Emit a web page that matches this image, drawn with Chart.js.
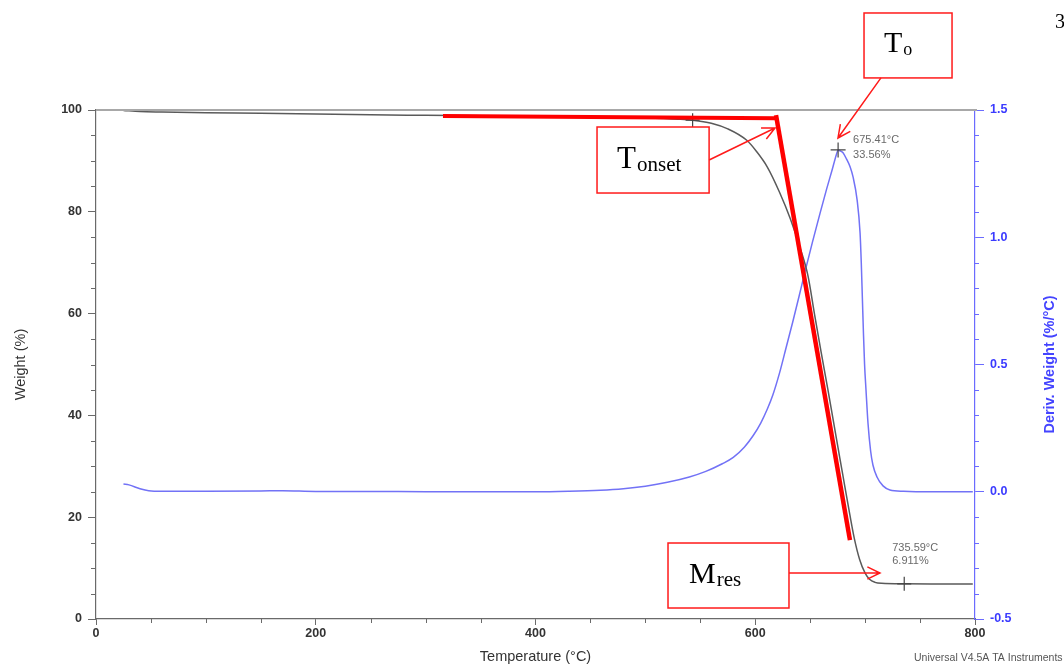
<!DOCTYPE html>
<html>
<head>
<meta charset="utf-8">
<script src="https://cdn.jsdelivr.net/npm/chart.js@4.4.1/dist/chart.umd.min.js"></script>
<style>
  html, body { margin: 0; padding: 0; background: #ffffff; }
  #wrap { width: 1064px; height: 667px; position: relative; }
</style>
</head>
<body>
<div id="wrap"><canvas id="tga" width="1064" height="667"></canvas></div>
<script>
// TGA run: temperature (°C) against weight (%)
const weightTemp = [25, 40, 60, 100, 150, 200, 250, 300, 350, 400, 450, 500, 530, 543, 560, 575, 592, 601, 611, 622, 632, 641, 648, 654, 660, 666, 671, 675.41, 680, 686, 690, 695, 700, 704, 709, 715, 735.59, 760, 798];
const weightPct  = [99.9, 99.7, 99.6, 99.45, 99.35, 99.2, 99.05, 98.95, 98.85, 98.75, 98.65, 98.45, 98.2, 98.0, 97.4, 96.3, 94.1, 91.9, 88.8, 83.9, 78.6, 72.8, 67.4, 59.8, 52.4, 45.2, 39.0, 33.56, 27.9, 20.6, 16.0, 11.7, 9.0, 7.8, 7.2, 7.0, 6.911, 6.9, 6.9];

// DTG run: temperature (°C) against derivative weight (%/°C)
const derivTemp = [25, 30, 40, 48, 60, 100, 150, 170, 200, 250, 300, 350, 400, 430, 459, 480, 500, 520, 540, 555, 570, 580, 590, 598, 605, 611, 616, 622, 628, 634, 640, 645, 652, 659, 665, 670, 672, 674, 675.41, 677, 679.9, 683, 686.3, 689, 692.7, 695.4, 696.5, 697.5, 698.5, 699.5, 700.8, 702.6, 705, 707.1, 710.8, 716.3, 722.6, 735, 760, 798];
const derivVal  = [0.03, 0.027, 0.012, 0.004, 0.002, 0.002, 0.003, 0.004, 0.001, 0.001, 0.0, 0.0, 0.0, 0.002, 0.006, 0.012, 0.022, 0.037, 0.058, 0.08, 0.11, 0.135, 0.175, 0.22, 0.27, 0.325, 0.38, 0.465, 0.565, 0.665, 0.77, 0.86, 0.98, 1.095, 1.19, 1.265, 1.297, 1.327, 1.343, 1.34, 1.332, 1.308, 1.277, 1.237, 1.147, 1.017, 0.90, 0.76, 0.62, 0.50, 0.40, 0.27, 0.16, 0.105, 0.058, 0.023, 0.007, 0.002, 0.0, 0.0];

// Tangent construction for the onset temperature (weight axis)
const baselineTemp = [315.8, 618.9];
const baselinePct  = [98.8, 98.4];
const slopeTemp    = [618.9, 686.2];
const slopePct     = [99.0, 15.5];

// Marked points
const onsetMark = { t: 543, w: 98.0 };
const peakT = 675.41, peakW = 33.56, peakDeriv = 1.343;
const resT = 735.59, resW = 6.911;

// Axis ticks
const xTicks = { min: 0, max: 800, major: 200, minor: 50 };
const yTicks = { min: 0, max: 100, major: 20, minor: 5 };
const y2Ticks = { min: -0.5, max: 1.5, major: 0.5, minor: 0.1 };

const pts = (xs, ys) => xs.map((x, i) => ({ x, y: ys[i] }));

const AXIS_GREY = '#6a6a6a';
const AXIS_BLUE = '#6b6bff';
const TICK_FONT = { family: 'Liberation Sans, Arial, sans-serif', size: 12.5, weight: 'bold' };

// Callout boxes, in data units of the temperature / weight axes
const callouts = [
  { main: 'T', sub: 'o',     box: [699.0, 119.06, 779.1, 106.3], mainSize: 30, subSize: 18, tx: 20, base: 39, from: [714.4, 106.3], to: [675.3, 94.5] },
  { main: 'T', sub: 'onset', box: [456.0, 96.66, 558.0, 83.69], mainSize: 31, subSize: 21, tx: 20, base: 41, from: [558.0, 90.18], to: [618.0, 96.46] },
  { main: 'M', sub: 'res',   box: [520.6, 14.93, 630.7, 2.16],  mainSize: 30, subSize: 21, tx: 21, base: 40, from: [630.7, 9.04],  to: [713.5, 9.04] }
];

function arrow(ctx, x1, y1, x2, y2) {
  ctx.beginPath();
  ctx.moveTo(x1, y1);
  ctx.lineTo(x2, y2);
  const ang = Math.atan2(y2 - y1, x2 - x1);
  const len = 14, spread = 0.45;
  ctx.moveTo(x2 - len * Math.cos(ang - spread), y2 - len * Math.sin(ang - spread));
  ctx.lineTo(x2, y2);
  ctx.lineTo(x2 - len * Math.cos(ang + spread), y2 - len * Math.sin(ang + spread));
  ctx.stroke();
}

const decor = {
  id: 'decor',
  afterDraw(chart) {
    const { ctx, chartArea: a, scales: { x, y, y2 } } = chart;
    ctx.save();

    // top frame line
    ctx.strokeStyle = '#a8a8a8';
    ctx.lineWidth = 2;
    ctx.beginPath();
    ctx.moveTo(a.left, a.top);
    ctx.lineTo(a.right + 2, a.top);
    ctx.stroke();

    // minor tick marks
    ctx.lineWidth = 1;
    ctx.strokeStyle = AXIS_GREY;
    for (let v = xTicks.min; v <= xTicks.max + 1e-9; v += xTicks.minor) {
      if (Math.abs(v % xTicks.major) < 1e-6) continue;
      const px = Math.round(x.getPixelForValue(v)) + 0.5;
      ctx.beginPath(); ctx.moveTo(px, a.bottom); ctx.lineTo(px, a.bottom + 4); ctx.stroke();
    }
    for (let v = yTicks.min; v <= yTicks.max + 1e-9; v += yTicks.minor) {
      if (Math.abs(v % yTicks.major) < 1e-6) continue;
      const py = Math.round(y.getPixelForValue(v)) + 0.5;
      ctx.beginPath(); ctx.moveTo(a.left - 5, py); ctx.lineTo(a.left, py); ctx.stroke();
    }
    ctx.strokeStyle = AXIS_BLUE;
    for (let i = 0; i <= Math.round((y2Ticks.max - y2Ticks.min) / y2Ticks.minor); i++) {
      if (i % 5 === 0) continue;
      const v = y2Ticks.min + i * y2Ticks.minor;
      const py = Math.round(y2.getPixelForValue(v)) + 0.5;
      ctx.beginPath(); ctx.moveTo(a.right, py); ctx.lineTo(a.right + 4, py); ctx.stroke();
    }

    // right axis title, reading upwards
    ctx.save();
    ctx.translate(1050, (a.top + a.bottom) / 2);
    ctx.rotate(-Math.PI / 2);
    ctx.fillStyle = '#4444ff';
    ctx.font = 'bold 14.5px "Liberation Sans", Arial, sans-serif';
    ctx.textAlign = 'center';
    ctx.textBaseline = 'middle';
    ctx.fillText('Deriv. Weight (%/°C)', 0, 0);
    ctx.restore();

    // value labels next to the marked points
    ctx.fillStyle = '#6a6a6a';
    ctx.font = '11px "Liberation Sans", Arial, sans-serif';
    ctx.textAlign = 'left';
    ctx.textBaseline = 'alphabetic';
    const pkx = x.getPixelForValue(peakT), pky = y2.getPixelForValue(peakDeriv);
    ctx.fillText(peakT.toFixed(2) + '°C', pkx + 15, pky - 7);
    ctx.fillText(peakW.toFixed(2) + '%', pkx + 15, pky + 8);
    const rsx = x.getPixelForValue(resT), rsy = y.getPixelForValue(resW);
    ctx.fillText(resT.toFixed(2) + '°C', rsx - 12, rsy - 33);
    ctx.fillText(resW.toFixed(3) + '%', rsx - 12, rsy - 20);

    // callout boxes with arrows
    ctx.strokeStyle = '#ff1a1a';
    ctx.lineWidth = 1.5;
    for (const c of callouts) {
      const l = x.getPixelForValue(c.box[0]), t = y.getPixelForValue(c.box[1]);
      const r = x.getPixelForValue(c.box[2]), b = y.getPixelForValue(c.box[3]);
      ctx.fillStyle = '#ffffff';
      ctx.fillRect(l, t, r - l, b - t);
      ctx.strokeRect(l, t, r - l, b - t);
      ctx.fillStyle = '#000000';
      ctx.font = c.mainSize + 'px "Liberation Serif", "Times New Roman", serif';
      ctx.fillText(c.main, l + c.tx, t + c.base);
      const w = ctx.measureText(c.main).width;
      ctx.font = c.subSize + 'px "Liberation Serif", "Times New Roman", serif';
      ctx.fillText(c.sub, l + c.tx + w + 1, t + c.base + 3);
      arrow(ctx, x.getPixelForValue(c.from[0]), y.getPixelForValue(c.from[1]),
                 x.getPixelForValue(c.to[0]), y.getPixelForValue(c.to[1]));
    }

    // instrument footer and page number
    ctx.fillStyle = '#555555';
    ctx.font = '10.5px "Liberation Sans", Arial, sans-serif';
    ctx.fillText('Universal V4.5A TA Instruments', 914, 661);
    ctx.fillStyle = '#000000';
    ctx.font = '20px "Liberation Serif", "Times New Roman", serif';
    ctx.fillText('3', 1055, 28);

    ctx.restore();
  }
};

new Chart(document.getElementById('tga'), {
  type: 'line',
  data: {
    datasets: [
      { label: 'Baseline tangent', data: pts(baselineTemp, baselinePct), yAxisID: 'y', borderColor: '#ff0000', borderWidth: 4, pointRadius: 0, order: 0 },
      { label: 'Inflection tangent', data: pts(slopeTemp, slopePct), yAxisID: 'y', borderColor: '#ff0000', borderWidth: 4.5, pointRadius: 0, order: 0 },
      { label: 'Weight marks', type: 'scatter', data: [{ x: onsetMark.t, y: onsetMark.w }, { x: resT, y: resW }], yAxisID: 'y', pointStyle: 'cross', pointRadius: 7, borderColor: '#444', borderWidth: 1.2, showLine: false, order: 1 },
      { label: 'Peak mark', type: 'scatter', data: [{ x: peakT, y: peakDeriv }], yAxisID: 'y2', pointStyle: 'cross', pointRadius: 7.5, borderColor: '#444', borderWidth: 1.2, showLine: false, order: 1 },
      { label: 'Weight (%)', data: pts(weightTemp, weightPct), yAxisID: 'y', borderColor: '#5a5a5a', borderWidth: 1.5, pointRadius: 0, cubicInterpolationMode: 'monotone', order: 2 },
      { label: 'Deriv. Weight (%/°C)', data: pts(derivTemp, derivVal), yAxisID: 'y2', borderColor: '#7272f6', borderWidth: 1.5, pointRadius: 0, cubicInterpolationMode: 'monotone', order: 3 }
    ]
  },
  options: {
    responsive: false,
    animation: false,
    devicePixelRatio: 1,
    layout: { padding: { top: 110, left: 0, right: 0, bottom: 0 } },
    plugins: { legend: { display: false }, tooltip: { enabled: false } },
    scales: {
      x: {
        type: 'linear', position: 'bottom', min: xTicks.min, max: xTicks.max,
        afterFit: s => { s.height = 48; },
        border: { color: AXIS_GREY, width: 1.2 },
        grid: { drawOnChartArea: false, tickLength: 6, tickColor: AXIS_GREY },
        ticks: { stepSize: xTicks.major, color: '#333', font: TICK_FONT, padding: 1, maxRotation: 0 },
        title: { display: true, text: 'Temperature (°C)', color: '#333', font: { family: 'Liberation Sans, Arial, sans-serif', size: 14.5 }, padding: { top: 0, bottom: 1 } }
      },
      y: {
        type: 'linear', position: 'left', min: yTicks.min, max: yTicks.max,
        afterFit: s => { s.width = 96; },
        border: { color: AXIS_GREY, width: 1.2 },
        grid: { drawOnChartArea: false, tickLength: 8, tickColor: AXIS_GREY },
        ticks: { stepSize: yTicks.major, color: '#333', font: TICK_FONT, padding: 6 },
        title: { display: true, text: 'Weight (%)', color: '#333', font: { family: 'Liberation Sans, Arial, sans-serif', size: 14.5 }, padding: { top: 12, bottom: 0 } }
      },
      y2: {
        type: 'linear', position: 'right', min: y2Ticks.min, max: y2Ticks.max,
        afterFit: s => { s.width = 89; },
        border: { color: AXIS_BLUE, width: 1.2 },
        grid: { drawOnChartArea: false, tickLength: 9, tickColor: AXIS_BLUE },
        ticks: { stepSize: y2Ticks.major, color: '#3b3bff', font: TICK_FONT, padding: 6, callback: v => Number(v).toFixed(1) }
      }
    }
  },
  plugins: [decor]
});
</script>
</body>
</html>
